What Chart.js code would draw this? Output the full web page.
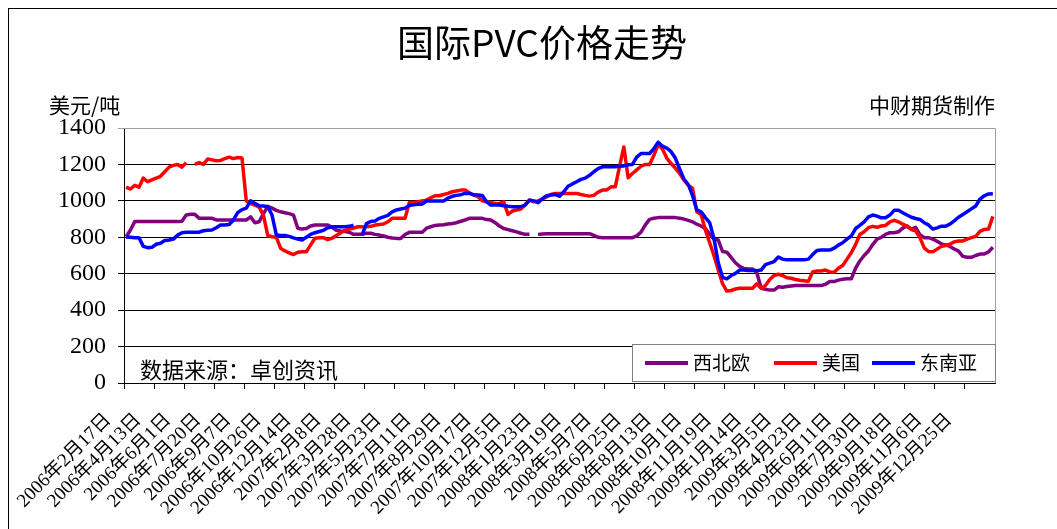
<!DOCTYPE html>
<html>
<head>
<meta charset="utf-8">
<script src="https://cdn.jsdelivr.net/npm/chart.js@4.4.1/dist/chart.umd.min.js"></script>
<style>
  html, body { margin: 0; padding: 0; background: #fff; }
  #wrap { width: 1057px; height: 529px; position: relative; }
</style>
</head>
<body>
<div id="wrap"><canvas id="myChart"></canvas></div>
<script>
// x axis labels, one every 7 weekly points
const tickLabels = [
  '2006年2月17日', '2006年4月13日', '2006年6月1日', '2006年7月20日', '2006年9月7日',
  '2006年10月26日', '2006年12月14日', '2007年2月8日', '2007年3月28日', '2007年5月23日',
  '2007年7月11日', '2007年8月29日', '2007年10月17日', '2007年12月5日', '2008年1月23日',
  '2008年3月19日', '2008年5月7日', '2008年6月25日', '2008年8月13日', '2008年10月1日',
  '2008年11月19日', '2009年1月14日', '2009年3月5日', '2009年4月23日', '2009年6月11日',
  '2009年7月30日', '2009年9月18日', '2009年11月6日', '2009年12月25日'
];

const seriesNames = ['西北欧', '美国', '东南亚'];

// 西北欧
const westEurope = [
  803, 840, 886, 886, 886, 886, 886,
  886, 886, 886, 886, 886, 886, 888,
  922, 926, 926, 905, 904, 904, 904,
  895, 895, 895, 895, 895, 895, 895,
  895, 912, 880, 885, 930, 970, 960,
  948, 940, 935, 930, 922, 850, 845,
  848, 862, 867, 867, 867, 867, 855,
  838, 834, 832, 828, 816, 816, 816,
  822, 822, 816, 812, 807, 800, 796,
  794, 794, 815, 827, 827, 827, 827,
  850, 858, 865, 867, 869, 873, 876,
  880, 888, 895, 904, 904, 904, 904,
  897, 895, 880, 862, 848, 842, 836,
  830, 822, 816, 816, null, 816, 818,
  820, 820, 820, 820, 820, 820, 820,
  820, 820, 820, 820, 810, 800, 798,
  798, 798, 798, 798, 798, 798, 798,
  808, 828, 868, 898, 905, 908, 908,
  908, 908, 908, 905, 900, 893, 885,
  872, 862, 848, 818, 790, 785, 722,
  718, 690, 660, 640, 628, 626, 626,
  605, 520, 515, 510, 510, 528, 526,
  530, 533, 535, 535, 535, 535, 535,
  535, 535, 542, 557, 557, 565, 570,
  572, 572, 630, 670, 700, 725, 760,
  790, 800, 816, 825, 825, 830, 850,
  862, 845, 855, 815, 798, 798, 790,
  778, 764, 758, 750, 736, 724, 695,
  690, 690, 700, 708, 708, 720, 745
];

// 美国
const usa = [
  1075, 1065, 1085, 1075, 1125, 1105, 1115,
  1125, 1135, 1160, 1185, 1195, 1200, 1185,
  1210, null, 1200, 1210, 1200, 1230, 1225,
  1220, 1222, 1232, 1240, 1232, 1238, 1236,
  1000, 985, 977, 965, 920, 810, 803,
  800, 740, 725, 715, 705, 718, 720,
  720, 758, 795, 798, 798, 787, 795,
  810, 825, 838, 845, 850, 858, 858,
  858, 860, 867, 870, 873, 885, 904,
  904, 904, 904, 991, 991, 995, 1000,
  1004, 1017, 1028, 1028, 1035, 1041, 1050,
  1054, 1059, 1059, 1045, 1032, 1023, 1000,
  995, 991, 986, 986, 995, 926, 944,
  950, 955, 980, 1005, 995, 1000, 1010,
  1022, 1035, 1041, 1041, 1041, 1041, 1041,
  1041, 1035, 1030, 1026, 1030, 1048, 1059,
  1060, 1077, 1077, 1190, 1296, 1127, 1150,
  1170, 1190, 1200, 1200, 1250, 1310, 1285,
  1235, 1205, 1180, 1150, 1115, 1085, 1070,
  940, 925, 840, 770, 700, 620, 545,
  505, 508, 516, 520, 520, 520, 520,
  545, 520, 535, 568, 590, 597, 590,
  578, 575, 568, 564, 561, 558, 610,
  615, 615, 620, 610, 608, 630, 645,
  680, 715, 760, 815, 830, 853, 860,
  855, 862, 865, 885, 893, 885, 872,
  860, 843, 836, 798, 742, 722, 720,
  735, 750, 755, 762, 775, 780, 780,
  790, 798, 805, 832, 843, 845, 915
];

// 东南亚
const seAsia = [
  802, 800, 798, 798, 750, 743, 745,
  762, 767, 782, 785, 790, 812, 825,
  827, 827, 827, 828, 836, 838, 840,
  852, 867, 867, 870, 895, 935, 952,
  960, 1000, 986, 973, 972, 968, 922,
  813, 810, 810, 805, 797, 790, 785,
  800, 816, 825, 832, 838, 852, 858,
  858, 858, 858, 860, 867, null, 813,
  875, 887, 890, 904, 912, 920, 940,
  950, 955, 960, 975, 978, 981, 982,
  999, 999, 999, 999, 999, 1015, 1025,
  1030, 1034, 1041, 1041, 1033, 1032, 1030,
  995, 977, 977, 977, 973, 970, 968,
  968, 968, 976, 1004, 1000, 990, 1012,
  1028, 1032, 1035, 1025, 1050, 1080, 1093,
  1105, 1118, 1125, 1140, 1160, 1177, 1187,
  1187, 1187, 1187, 1190, 1192, 1198, 1200,
  1240, 1260, 1260, 1260, 1287, 1322, 1300,
  1290, 1270, 1235, 1175, 1120, 1090, 1030,
  950, 940, 908, 880, 794, 660, 580,
  572, 590, 602, 620, 621, 618, 617,
  617, 620, 650, 658, 666, 692, 680,
  676, 676, 676, 676, 676, 680, 705,
  728, 730, 730, 730, 740, 757, 770,
  790, 807, 848, 865, 885, 912, 922,
  916, 907, 907, 922, 948, 948, 935,
  922, 910, 903, 898, 880, 868, 845,
  852, 861, 861, 872, 890, 910, 925,
  940, 956, 972, 1010, 1028, 1038, 1039
];

const colors = ['#800080', '#ff0000', '#0000ff'];
const labelStep = 7;
const labels = westEurope.map((v, i) => i % labelStep === 0 ? tickLabels[i / labelStep] : '');

const cjk = '"Noto Sans CJK SC", sans-serif';
const serif = '"Liberation Serif", "Noto Sans CJK SC", serif';

const decor = {
  id: 'decor',
  beforeDatasetsDraw(chart) {
    const { ctx, chartArea: a } = chart;
    ctx.save();
    ctx.strokeStyle = '#a0a0a0';
    ctx.lineWidth = 1;
    ctx.beginPath();
    ctx.moveTo(a.left, a.top + 0.5);
    ctx.lineTo(a.right + 0.5, a.top + 0.5);
    ctx.lineTo(a.right + 0.5, a.bottom);
    ctx.stroke();
    ctx.restore();
  },
  afterDraw(chart) {
    const { ctx, chartArea: a } = chart;
    ctx.save();
    // outer frame
    ctx.strokeStyle = '#000';
    ctx.lineWidth = 1;
    ctx.strokeRect(8.5, 8.5, 1200, 700);

    ctx.fillStyle = '#000';
    ctx.textBaseline = 'middle';
    ctx.font = '37px ' + cjk;
    ctx.textAlign = 'center';
    ctx.fillText('国际PVC价格走势', 542, 43);

    ctx.font = '21px ' + cjk;
    ctx.textAlign = 'left';
    ctx.fillText('美元/吨', 49, 105);
    ctx.textAlign = 'right';
    ctx.fillText('中财期货制作', a.right, 105);

    ctx.font = '22px ' + cjk;
    ctx.textAlign = 'left';
    ctx.fillText('数据来源：卓创资讯', 140, 370);

    // legend box
    ctx.fillStyle = '#fff';
    ctx.fillRect(632, 344, a.right - 632, 37);
    ctx.strokeStyle = '#808080';
    ctx.strokeRect(632.5, 344.5, a.right - 632, 37);
    const starts = [645, 774, 872];
    ctx.font = '19px ' + cjk;
    ctx.textAlign = 'left';
    chart.data.datasets.forEach((ds, k) => {
      const x = starts[k];
      ctx.strokeStyle = ds.borderColor;
      ctx.lineWidth = 4;
      ctx.beginPath();
      ctx.moveTo(x, 363);
      ctx.lineTo(x + 43, 363);
      ctx.stroke();
      ctx.fillStyle = '#000';
      ctx.fillText(ds.label, x + 48, 363);
    });
    ctx.restore();
  }
};

new Chart(document.getElementById('myChart'), {
  type: 'line',
  data: {
    labels: labels,
    datasets: [westEurope, usa, seAsia].map((d, k) => ({
      label: seriesNames[k],
      data: d,
      borderColor: colors[k],
      backgroundColor: colors[k],
      borderWidth: 3.5,
      pointRadius: 0,
      tension: 0,
      spanGaps: false,
      borderJoinStyle: 'round',
      order: 3 - k
    }))
  },
  options: {
    responsive: true,
    maintainAspectRatio: false,
    animation: false,
    layout: { padding: { top: 128, right: 62, left: 0, bottom: 0 } },
    plugins: {
      legend: { display: false },
      title: { display: false },
      tooltip: { enabled: false }
    },
    scales: {
      x: {
        type: 'category',
        offset: true,
        grid: {
          offset: true,
          drawOnChartArea: false,
          tickLength: 6,
          color: c => c.index % labelStep === 0 ? '#000' : 'rgba(0,0,0,0)'
        },
        border: { color: '#000', width: 1 },
        ticks: {
          autoSkip: false,
          minRotation: 45,
          maxRotation: 45,
          labelOffset: -18,
          padding: 20,
          color: '#000',
          font: { family: serif, size: 19 }
        },
        afterFit: s => { s.height = 146; }
      },
      y: {
        min: 0,
        max: 1400,
        ticks: {
          stepSize: 200,
          padding: 12,
          color: '#000',
          font: { family: serif, size: 24 },
          callback: v => String(v)
        },
        grid: {
          tickLength: 6,
          color: c => c.tick && c.tick.value === 1400 ? '#a0a0a0' : '#000'
        },
        border: { color: '#000', width: 1 },
        afterFit: s => { s.width = 124; }
      }
    }
  },
  plugins: [decor]
});
</script>
</body>
</html>
